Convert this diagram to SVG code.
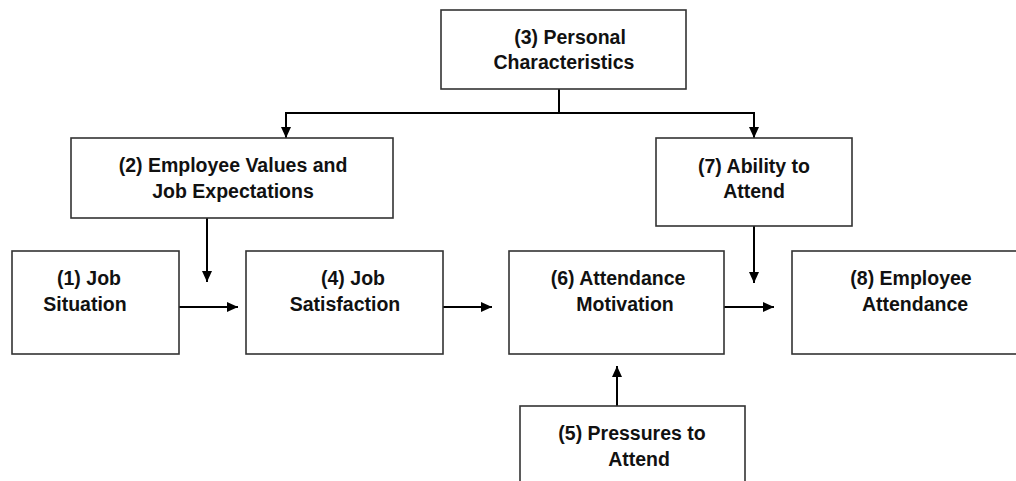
<svg xmlns="http://www.w3.org/2000/svg" width="1016" height="481" viewBox="0 0 1016 481">
  <defs>
    <marker id="arr" viewBox="0 0 11 10" refX="11" refY="5" markerWidth="11" markerHeight="10" markerUnits="userSpaceOnUse" orient="auto">
      <path d="M0,0 L11,5 L0,10 z" fill="#000"/>
    </marker>
    <style>
      .box { fill: #fff; stroke: #333; stroke-width: 1.6; }
      .lbl { font-family: "Liberation Sans", Arial, sans-serif; font-weight: bold; font-size: 19.5px; fill: #111; text-anchor: middle; }
      .ln { fill: none; stroke: #000; stroke-width: 2; }
      .ar { fill: none; stroke: #000; stroke-width: 2; marker-end: url(#arr); }
    </style>
  </defs>
  <rect width="1016" height="481" fill="#fff"/>

  <g id="connectors">
    <line class="ln" x1="559" y1="89" x2="559" y2="113"/>
    <line class="ln" x1="285" y1="113" x2="755" y2="113"/>
    <line class="ar" x1="286" y1="113" x2="286" y2="138"/>
    <line class="ar" x1="754" y1="113" x2="754" y2="138"/>
    <line class="ar" x1="207" y1="218" x2="207" y2="282"/>
    <line class="ar" x1="754" y1="226" x2="754" y2="283"/>
    <line class="ar" x1="179" y1="307" x2="238" y2="307"/>
    <line class="ar" x1="443" y1="307" x2="492" y2="307"/>
    <line class="ar" x1="724" y1="307" x2="774" y2="307"/>
    <line class="ar" x1="617" y1="406" x2="617" y2="366"/>
  </g>

  <g id="node3">
    <rect class="box" x="441" y="10" width="245" height="79"/>
    <text class="lbl" x="570" y="44">(3) Personal</text>
    <text class="lbl" x="564" y="69">Characteristics</text>
  </g>
  <g id="node2">
    <rect class="box" x="71" y="138" width="322" height="80"/>
    <text class="lbl" x="233" y="172">(2) Employee Values and</text>
    <text class="lbl" x="233" y="198">Job Expectations</text>
  </g>
  <g id="node7">
    <rect class="box" x="656" y="138" width="196" height="88"/>
    <text class="lbl" x="754" y="173">(7) Ability to</text>
    <text class="lbl" x="754" y="198">Attend</text>
  </g>
  <g id="node1">
    <rect class="box" x="12" y="251" width="167" height="103"/>
    <text class="lbl" x="89" y="285">(1) Job</text>
    <text class="lbl" x="85" y="311">Situation</text>
  </g>
  <g id="node4">
    <rect class="box" x="246" y="251" width="197" height="103"/>
    <text class="lbl" x="353" y="285">(4) Job</text>
    <text class="lbl" x="345" y="311">Satisfaction</text>
  </g>
  <g id="node6">
    <rect class="box" x="509" y="251" width="215" height="103"/>
    <text class="lbl" x="618" y="285">(6) Attendance</text>
    <text class="lbl" x="625" y="311">Motivation</text>
  </g>
  <g id="node8">
    <rect class="box" x="792" y="251" width="240" height="103"/>
    <text class="lbl" x="911" y="285">(8) Employee</text>
    <text class="lbl" x="915" y="311">Attendance</text>
  </g>
  <g id="node5">
    <rect class="box" x="520" y="406" width="225" height="100"/>
    <text class="lbl" x="632" y="440">(5) Pressures to</text>
    <text class="lbl" x="639" y="466">Attend</text>
  </g>
</svg>
